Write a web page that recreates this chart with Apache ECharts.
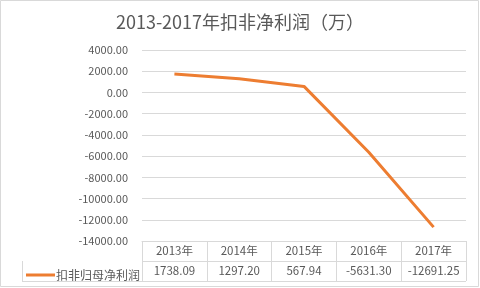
<!DOCTYPE html>
<html><head><meta charset="utf-8">
<script src="https://cdn.jsdelivr.net/npm/echarts@6/dist/echarts.min.js"></script>
<style>html,body{margin:0;padding:0;background:#fff}#c{width:480px;height:288px}</style>
</head><body><div id="c"></div>
<script>
const titleText = '2013-2017年扣非净利润（万）';
const seriesName = '扣非归母净利润';
const years = ['2013年','2014年','2015年','2016年','2017年'];
const profits = [1738.09, 1297.20, 567.94, -5631.30, -12691.25];
const yMin = -14000, yMax = 4000, yStep = 2000;

const GL = 142, GR = 466, GT = 50, GB = 241;
const FONT = '"Noto Sans CJK SC", "Noto Sans", sans-serif';
const TXT = '#595959', LINE = '#d9d9d9';
const chart = echarts.init(document.getElementById('c'));
chart.setOption({
  animation: false,
  backgroundColor: '#fff',
  title: {text: titleText, left: 'center', top: 8,
    textStyle: {fontFamily: FONT, fontSize: 18, fontWeight: 'normal', color: TXT}},
  legend: {left: 21, top: 264, itemWidth: 29, itemHeight: 3, itemGap: 0, icon: 'rect',
    textStyle: {fontFamily: FONT, fontSize: 12, color: TXT, padding: [0,0,0,-4]},
    data: [seriesName]},
  grid: {left: GL, right: 480 - GR, top: GT, bottom: 288 - GB},
  xAxis: [
    {type: 'category', data: years, boundaryGap: true, position: 'bottom',
     axisLine: {onZero: false, lineStyle: {color: LINE}},
     axisTick: {show: true, length: 40, lineStyle: {color: LINE}},
     axisLabel: {interval: 0, margin: 10, verticalAlign: 'middle', fontFamily: FONT, fontSize: 11.5, color: TXT}},
    {type: 'category', data: profits.map(v => v.toFixed(2)), boundaryGap: true, position: 'bottom',
     axisLine: {show: false, onZero: false}, axisTick: {show: false},
     axisLabel: {interval: 0, margin: 30, verticalAlign: 'middle', fontFamily: FONT, fontSize: 11.5, color: TXT}}
  ],
  yAxis: {type: 'value', min: yMin, max: yMax, interval: yStep,
    axisLine: {show: false}, axisTick: {show: false},
    splitLine: {lineStyle: {color: LINE}},
    axisLabel: {margin: 14, formatter: v => v.toFixed(2), fontFamily: FONT, fontSize: 11, color: TXT}},
  series: [{name: seriesName, type: 'line', data: profits, xAxisIndex: 0,
    showSymbol: false, symbol: 'none', color: '#ED7D31', lineStyle: {width: 3, color: '#ED7D31'}}],
  graphic: [
    {type: 'rect', shape: {x: 0.5, y: 0.5, width: 478, height: 286}, style: {fill: 'none', stroke: LINE, lineWidth: 1}, silent: true},
    {type: 'line', shape: {x1: GL, y1: 261.5, x2: GR, y2: 261.5}, style: {stroke: LINE, lineWidth: 1}},
    {type: 'line', shape: {x1: 22, y1: 281.5, x2: GR, y2: 281.5}, style: {stroke: LINE, lineWidth: 1}},
    {type: 'line', shape: {x1: 22.5, y1: 261, x2: 22.5, y2: 282}, style: {stroke: LINE, lineWidth: 1}}
  ]
});
</script></body></html>
